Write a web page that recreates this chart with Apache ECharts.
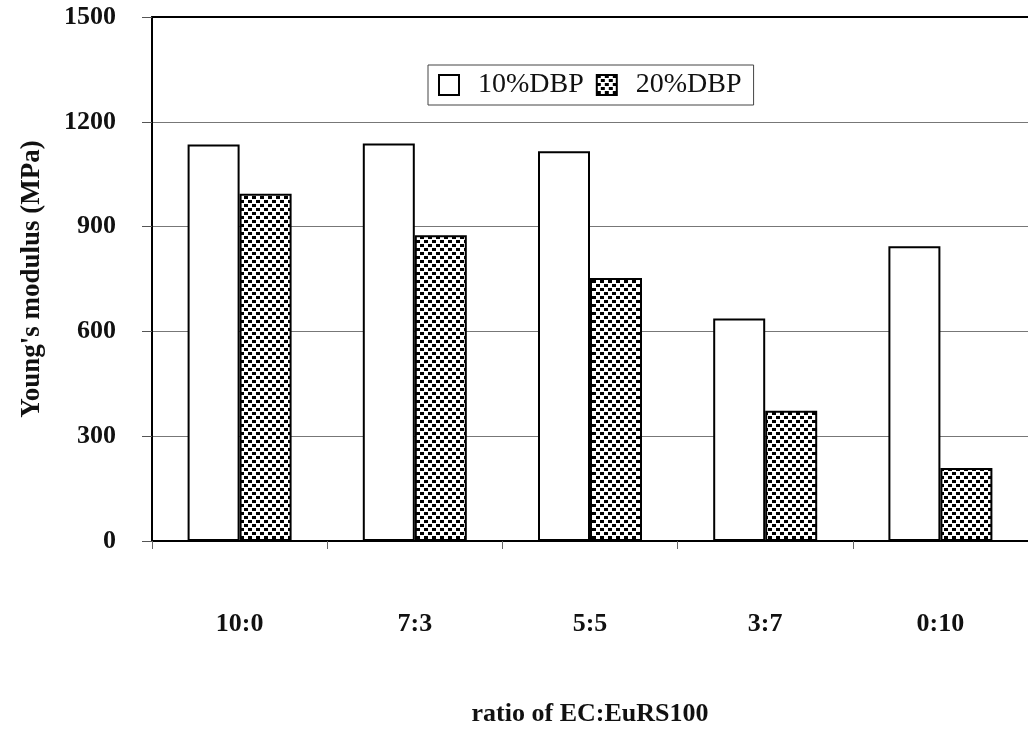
<!DOCTYPE html>
<html>
<head>
<meta charset="utf-8">
<script src="https://cdn.jsdelivr.net/npm/echarts@6/dist/echarts.min.js"></script>
<style>
html,body{margin:0;padding:0;background:#fff;}
#chart{width:1028px;height:732px;}
</style>
</head>
<body>
<div id="chart"></div>
<script>
const categories = ['10:0', '7:3', '5:5', '3:7', '0:10'];
const dbp10 = [1135, 1138, 1116, 637, 844];
const dbp20 = [994, 875, 753, 373, 209];
const seriesNames = ['10%DBP', '20%DBP'];
const yMin = 0, yMax = 1500, yStep = 300;

const FONT = '"Liberation Serif", "Times New Roman", serif';

function makePattern() {
  const c = document.createElement('canvas');
  c.width = 8; c.height = 8;
  const ctx = c.getContext('2d');
  ctx.fillStyle = '#fff';
  ctx.fillRect(0, 0, 8, 8);
  ctx.fillStyle = '#000';
  ctx.fillRect(0, 0, 4, 3);
  ctx.fillRect(4, 4, 4, 3);
  return c;
}
const pattern = { image: makePattern(), repeat: 'repeat' };

const chart = echarts.init(document.getElementById('chart'), null, { renderer: 'canvas' });
chart.setOption({
  backgroundColor: '#fff',
  animation: false,
  grid: { left: 152, top: 17, right: 0, bottom: 185, containLabel: false },
  legend: {
    data: seriesNames,
    left: 428, top: 65,
    orient: 'horizontal',
    backgroundColor: '#fff',
    borderColor: '#444', borderWidth: 1,
    padding: [6, 12, 6, 10],
    itemWidth: 20, itemHeight: 20, itemGap: 12,
    icon: 'rect',
    textStyle: { fontFamily: FONT, fontSize: 28, color: '#111', padding: [0, 0, 0, 14] }
  },
  xAxis: [{
    type: 'category',
    data: categories,
    axisLine: { lineStyle: { color: '#000', width: 2 } },
    axisTick: { show: true, length: 8, lineStyle: { color: '#666', width: 1 } },
    axisLabel: { fontFamily: FONT, fontSize: 26, fontWeight: 'bold', color: '#111', margin: 70 },
    name: 'ratio of EC:EuRS100',
    nameLocation: 'middle',
    nameGap: 160,
    nameTextStyle: { fontFamily: FONT, fontSize: 26, fontWeight: 'bold', color: '#111' }
  }, {
    type: 'category',
    data: categories,
    position: 'top',
    axisLine: { show: true, lineStyle: { color: '#000', width: 2 } },
    axisTick: { show: false },
    axisLabel: { show: false }
  }],
  yAxis: {
    type: 'value',
    min: yMin, max: yMax, interval: yStep,
    axisLine: { show: true, lineStyle: { color: '#000', width: 2 } },
    axisTick: { show: true, length: 10, lineStyle: { color: '#555', width: 1 } },
    axisLabel: {
      fontFamily: FONT, fontSize: 26, fontWeight: 'bold', color: '#111', margin: 36,
      formatter: function (v) { return String(v); }
    },
    splitLine: { show: true, lineStyle: { color: '#777', width: 1 } },
    name: "Young's modulus (MPa)",
    nameLocation: 'middle',
    nameGap: 106,
    nameTextStyle: { fontFamily: FONT, fontSize: 27, fontWeight: 'bold', color: '#111' }
  },
  series: [{
    name: seriesNames[0],
    type: 'bar',
    data: dbp10,
    barWidth: 52,
    barGap: '0%',
    itemStyle: { color: '#fff', borderColor: '#000', borderWidth: 2 }
  }, {
    name: seriesNames[1],
    type: 'bar',
    data: dbp20,
    barWidth: 52,
    barGap: '0%',
    itemStyle: { color: pattern, borderColor: '#000', borderWidth: 2 }
  }]
});
</script>
</body>
</html>
